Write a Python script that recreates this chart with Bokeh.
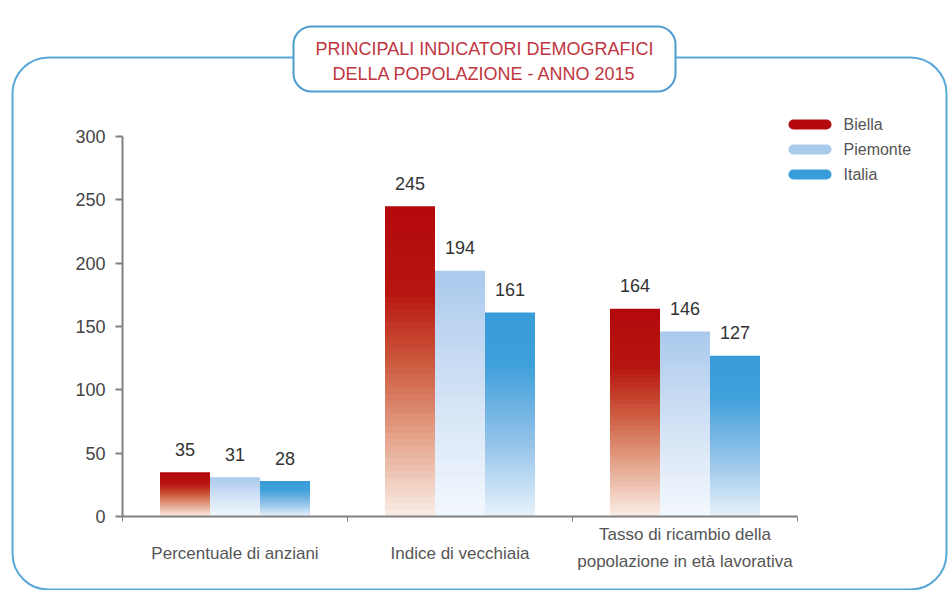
from bokeh.plotting import figure
from bokeh.models import Range1d, FixedTicker, BoxAnnotation, Label, ColumnDataSource
from bokeh.core.properties import value
from bokeh.embed import file_html
from bokeh.resources import INLINE

# ---------------- data ----------------
categories = ["Percentuale di anziani", "Indice di vecchiaia",
              "Tasso di ricambio della\npopolazione in età lavorativa"]
series = ["Biella", "Piemonte", "Italia"]
biella = [35, 245, 164]
piemonte = [31, 194, 146]
italia = [28, 161, 127]
y_ticks = [0, 50, 100, 150, 200, 250, 300]
title_lines = ["PRINCIPALI INDICATORI DEMOGRAFICI", "DELLA POPOLAZIONE - ANNO 2015"]

# ---------------- styling ----------------
FONT = "Liberation Sans"
stops = {
    "Biella": [(0.0, (250, 238, 232)), (0.25, (229, 165, 140)), (0.5, (204, 88, 60)),
               (0.72, (183, 22, 16)), (1.0, (180, 8, 12))],
    "Piemonte": [(0.0, (243, 248, 253)), (0.5, (210, 226, 245)), (1.0, (170, 201, 236))],
    "Italia": [(0.0, (232, 242, 251)), (0.35, (150, 196, 233)), (0.75, (62, 159, 219)),
               (1.0, (56, 157, 218))],
}
legend_colors = {"Biella": "#b40a0e", "Piemonte": "#aacaec", "Italia": "#389dda"}


def interp(st, t):
    for (t0, c0), (t1, c1) in zip(st[:-1], st[1:]):
        if t0 <= t <= t1:
            f = (t - t0) / (t1 - t0)
            r, g, b = (round(a + (b_ - a) * f) for a, b_ in zip(c0, c1))
            return "#%02x%02x%02x" % (r, g, b)
    r, g, b = st[-1][1]
    return "#%02x%02x%02x" % (r, g, b)


W, H = 948, 590
FL, FR, FT, FB = 122, 797, 136, 516  # where the axes box sits on the canvas
n_groups = len(categories)
PX = (FR - FL) / n_groups          # px per category
PY = (FB - FT) / y_ticks[-1]       # px per unit

# the plotting frame covers the whole canvas; axes are pinned at 0 with fixed_location
p = figure(width=W, height=H, output_backend="svg", toolbar_location=None,
           x_range=Range1d(-FL / PX, n_groups + (W - FR) / PX),
           y_range=Range1d(-(H - FB) / PY, y_ticks[-1] + FT / PY),
           min_border=0, min_border_left=0, min_border_right=0, min_border_top=0,
           min_border_bottom=0, outline_line_color=None)
p.xgrid.visible = False
p.ygrid.visible = False
p.background_fill_color = "white"
p.border_fill_color = "white"


def sx(cx):
    return cx


def sy(cy):
    return H - cy


# outer rounded frame & title box
frame = BoxAnnotation(left=sx(12), right=sx(946), top=sy(57), bottom=sy(589),
                      left_units="screen", right_units="screen", top_units="screen",
                      bottom_units="screen", fill_color=None, fill_alpha=0,
                      line_color="#5aa8d8", line_width=2, line_alpha=1, border_radius=36)
p.add_layout(frame)
tbox = BoxAnnotation(left=sx(293), right=sx(675), top=sy(26), bottom=sy(91),
                     left_units="screen", right_units="screen", top_units="screen",
                     bottom_units="screen", fill_color="white", fill_alpha=1,
                     line_color="#4e9ccf", line_width=2, line_alpha=1, border_radius=18)
p.add_layout(tbox)
for i, line in enumerate(title_lines):
    p.add_layout(Label(x=sx(484), y=sy(48 + 25 * i), x_units="screen", y_units="screen",
                       text=line, text_align="center", text_baseline="middle",
                       text_font=FONT, text_font_size="18px", text_color="#c0353f"))

# bars with vertical gradient (stacked slices, tallest first)
bw = 50 / 225
offsets = [-bw, 0.0, bw]
N = 48
L, R, B, T, C = [], [], [], [], []
for si, (name, vals) in enumerate(zip(series, [biella, piemonte, italia])):
    for gi, v in enumerate(vals):
        cx = gi + 0.5 + offsets[si]
        for k in range(N, 0, -1):
            L.append(cx - bw / 2)
            R.append(cx + bw / 2)
            B.append(0)
            T.append(v * k / N)
            C.append(interp(stops[name], (k - 0.5) / N))
p.quad(source=ColumnDataSource(dict(left=L, right=R, bottom=B, top=T, color=C)),
       left="left", right="right", bottom="bottom", top="top",
       fill_color="color", line_color=None)

# value labels
vx, vy, vt = [], [], []
for si, vals in enumerate([biella, piemonte, italia]):
    for gi, v in enumerate(vals):
        vx.append(gi + 0.5 + offsets[si])
        vy.append(v)
        vt.append(str(v))
p.text(x=vx, y=vy, text=vt, text_align="center", text_baseline="middle", y_offset=-23,
       text_font=value(FONT), text_font_size="18px", text_color="#333333")

# axes
ax = p.yaxis[0]
ax.fixed_location = 0
ax.bounds = (y_ticks[0], y_ticks[-1])
ax.ticker = FixedTicker(ticks=y_ticks)
ax.axis_line_color = "#808080"
ax.axis_line_width = 2
ax.major_tick_line_color = "#808080"
ax.major_tick_line_width = 2
ax.major_tick_out = 7
ax.major_tick_in = 0
ax.minor_tick_line_color = None
ax.major_label_standoff = 10
ax.major_label_text_font = FONT
ax.major_label_text_font_size = "18px"
ax.major_label_text_color = "#444444"

xa = p.xaxis[0]
xa.fixed_location = 0
xa.bounds = (0, n_groups)
xa.ticker = FixedTicker(ticks=list(range(n_groups + 1)))
xa.major_label_overrides = {i: "" for i in range(n_groups + 1)}
xa.axis_line_color = "#808080"
xa.axis_line_width = 2
xa.major_tick_line_color = "#808080"
xa.major_tick_line_width = 1
xa.major_tick_out = 5
xa.major_tick_in = 0
xa.minor_tick_line_color = None

# category labels under the axis
for gi, cat in enumerate(categories):
    lines = cat.split("\n")
    ys = [553] if len(lines) == 1 else [534, 561]
    for line, cy in zip(lines, ys):
        p.add_layout(Label(x=gi + 0.5, y=sy(cy), x_units="data", y_units="screen",
                           text=line, text_align="center", text_baseline="middle",
                           text_font=FONT, text_font_size="17px", text_color="#555555"))

# legend
for i, name in enumerate(series):
    cy = 124 + 25 * i
    p.add_layout(BoxAnnotation(left=sx(788), right=sx(831), top=sy(cy - 5), bottom=sy(cy + 5),
                               left_units="screen", right_units="screen", top_units="screen",
                               bottom_units="screen", fill_color=legend_colors[name],
                               fill_alpha=1, line_color=None, border_radius=5))
    p.add_layout(Label(x=sx(843), y=sy(cy), x_units="screen", y_units="screen", text=name,
                       text_align="left", text_baseline="middle", text_font=FONT,
                       text_font_size="16px", text_color="#555555"))

open("out.html", "w").write(file_html(p, INLINE))
